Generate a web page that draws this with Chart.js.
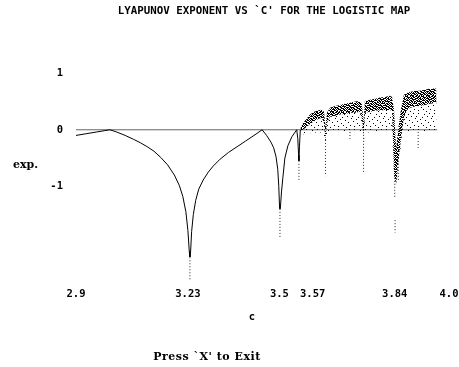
<!DOCTYPE html>
<html>
<head>
<meta charset="utf-8">
<script src="https://cdn.jsdelivr.net/npm/chart.js@4.4.1/dist/chart.umd.min.js"></script>
<style>
html,body{margin:0;padding:0;background:#fff;}
#wrap{width:459px;height:367px;}
</style>
</head>
<body>
<div id="wrap"><canvas id="c" width="459" height="367"></canvas></div>
<script>
// ---- data ----
const curveC = [2.900,2.930,2.960,2.985,3.000,3.020,3.045,3.070,3.090,3.110,3.130,3.150,3.170,3.190,3.205,3.215,3.224,3.230,3.234,3.236,3.238,3.241,3.246,3.253,3.262,3.275,3.290,3.305,3.325,3.350,3.375,3.400,3.425,3.449,3.462,3.475,3.483,3.490,3.495,3.498,3.5005,3.5025,3.506,3.510,3.516,3.525,3.537,3.551,3.554,3.5565,3.5575,3.559,3.5615];
const curveL = [-0.10,-0.07,-0.04,-0.015,0.00,-0.04,-0.10,-0.17,-0.23,-0.30,-0.38,-0.49,-0.62,-0.80,-0.99,-1.18,-1.45,-1.78,-2.15,-2.25,-2.15,-1.80,-1.50,-1.25,-1.05,-0.89,-0.75,-0.64,-0.52,-0.40,-0.30,-0.20,-0.10,0.00,-0.10,-0.22,-0.32,-0.48,-0.70,-1.00,-1.40,-1.40,-1.10,-0.85,-0.50,-0.28,-0.12,0.00,-0.15,-0.45,-0.55,-0.30,0.00];

const chaosC      = [3.562,3.569,3.578,3.590,3.602,3.614,3.625,3.6313,3.6357,3.6401,3.649,3.664,3.678,3.693,3.708,3.723,3.737,3.743,3.748,3.752,3.767,3.782,3.796,3.811,3.826,3.832,3.838,3.844,3.850,3.858,3.867,3.876,3.885,3.900,3.914,3.929,3.944,3.963];
const chaosTop    = [0.03,0.11,0.18,0.27,0.32,0.34,0.36,0.32,0.05,0.30,0.39,0.42,0.44,0.46,0.48,0.50,0.51,0.46,0.14,0.51,0.53,0.55,0.57,0.58,0.60,0.58,0.35,-0.35,0.00,0.35,0.62,0.65,0.67,0.69,0.69,0.71,0.73,0.73];
const chaosDense  = [-0.02,0.00,0.04,0.10,0.15,0.19,0.21,0.12,-0.18,0.12,0.23,0.25,0.27,0.28,0.30,0.30,0.32,0.21,-0.09,0.30,0.32,0.34,0.34,0.35,0.35,0.33,-0.80,-0.97,-0.62,-0.18,0.21,0.35,0.39,0.41,0.42,0.44,0.46,0.48];
const chaosSparse = [-0.08,-0.08,-0.08,-0.06,-0.05,-0.05,-0.05,-0.10,-0.30,-0.10,-0.04,-0.04,-0.04,-0.04,-0.04,-0.04,-0.04,-0.08,-0.25,-0.06,-0.04,-0.04,-0.04,-0.04,-0.04,-0.05,-0.85,-1.00,-0.70,-0.30,-0.05,-0.03,-0.03,-0.03,-0.03,-0.03,-0.03,-0.03];

const spikeC   = [3.236,3.5015,3.5575,3.6357,3.708,3.748,3.840,3.841,3.8505,3.909];
const spikeTop = [-2.15,-1.40,-0.55,-0.18,-0.04,-0.09,-0.85,-1.60,-0.55,-0.04];
const spikeBot = [-2.65,-1.90,-0.90,-0.82,-0.16,-0.78,-1.22,-1.82,-0.90,-0.32];

const zeroLineC = [2.897, 3.965];

const xTicks = [2.9, 3.23, 3.5, 3.57, 3.84, 4.0];
const xTickLabels = ["2.9", "3.23", "3.5", "   3.57", "3.84", "4.0"];
const yTicks = [-1, 0, 1];
const yTickLabels = ["-1", "0", "1"];

// ---- styling helpers ----
function makePattern(rows) {
  const t = document.createElement('canvas');
  t.width = rows[0].length; t.height = rows.length;
  const g = t.getContext('2d');
  g.fillStyle = '#000';
  rows.forEach((r, y) => { for (let x = 0; x < r.length; x++) if (r[x] === '1') g.fillRect(x, y, 1, 1); });
  return document.getElementById('c').getContext('2d').createPattern(t, 'repeat');
}
const densePattern = makePattern([
  "1011011100101101",
  "0110100111010110",
  "1101101010111001",
  "0010110101001111",
  "1101001110110100",
  "0111110001011011",
  "1000101101101010",
  "1011010110010111",
  "0101101011101000",
  "1110010100111101",
  "0011101111000110",
  "1100110010111011",
  "0110011101010101",
  "1011100110101110",
  "0100111011010011",
  "1101010100111100"
]);
const sparsePattern = makePattern([
  "0000000000000000",
  "0010000000000100",
  "0000000010000000",
  "0000000000000000",
  "1000000000010000",
  "0000001000000000",
  "0000000000000001",
  "0000100000000000",
  "0000000001000000",
  "0100000000000000",
  "0000000000001000",
  "0000010000000000",
  "0000000000000000",
  "0000000100000010",
  "0010000000000000",
  "0000000000100000"
]);

const pts = (xs, ys) => xs.map((x, i) => ({x: x, y: ys[i]}));
const spikeData = [];
spikeC.forEach((c, i) => { spikeData.push({x: c, y: spikeTop[i]}, {x: c, y: spikeBot[i]}, {x: c, y: null}); });

const textPlugin = {
  id: 'texts',
  afterDraw(chart) {
    const g = chart.ctx;
    g.save();
    g.fillStyle = '#000';
    g.textBaseline = 'middle';
    g.font = 'bold 10.8px "DejaVu Sans Mono"';
    g.textAlign = 'center';
    g.fillText("LYAPUNOV EXPONENT VS `C' FOR THE LOGISTIC MAP", 264, 11);
    g.font = 'bold 11px "DejaVu Serif"';
    g.textAlign = 'left';
    g.fillText('exp.', 13, 165);
    g.textAlign = 'center';
    g.font = 'bold 10.5px "DejaVu Sans Mono"';
    g.fillText('c', 252, 317);
    g.font = 'bold 11px "DejaVu Serif"';
    g.letterSpacing = '0.5px';
    g.fillText("Press `X' to Exit", 207, 357);
    g.restore();
  }
};

new Chart(document.getElementById('c'), {
  type: 'scatter',
  data: {
    datasets: [
      {data: pts(curveC, curveL), showLine: true, borderColor: '#000', borderWidth: 1, pointRadius: 0, fill: false, tension: 0},
      {data: spikeData, showLine: true, spanGaps: false, borderColor: '#222', borderWidth: 1, borderDash: [1, 2], pointRadius: 0, fill: false},
      {data: pts(chaosC, chaosTop), showLine: true, borderWidth: 0, borderColor: 'rgba(0,0,0,0)', pointRadius: 0, fill: false},
      {data: pts(chaosC, chaosDense), showLine: true, borderWidth: 0, borderColor: 'rgba(0,0,0,0)', pointRadius: 0, fill: 2, backgroundColor: densePattern},
      {data: pts(chaosC, chaosSparse), showLine: true, borderWidth: 0, borderColor: 'rgba(0,0,0,0)', pointRadius: 0, fill: 3, backgroundColor: sparsePattern},
      {data: pts(zeroLineC, [0, 0]), showLine: true, borderColor: '#666', borderWidth: 1, pointRadius: 0, fill: false}
    ]
  },
  options: {
    responsive: false,
    animation: false,
    devicePixelRatio: 1,
    layout: {padding: {left: 36, right: 10, top: 45, bottom: 59}},
    plugins: {legend: {display: false}, tooltip: {enabled: false}},
    scales: {
      x: {
        type: 'linear', min: 2.9, max: 4.0,
        border: {display: false},
        grid: {display: false, drawTicks: false},
        afterBuildTicks: s => { s.ticks = xTicks.map(v => ({value: v})); },
        afterFit: s => { s.paddingLeft = 0; s.paddingRight = 0; s.height = 20; },
        ticks: {
          padding: 0, maxRotation: 0, autoSkip: false, color: '#000',
          font: {family: 'DejaVu Sans Mono', size: 10.5, weight: 'bold'},
          callback: (v, i) => xTickLabels[i]
        }
      },
      y: {
        type: 'linear', min: -2.8, max: 1.5,
        border: {display: false},
        grid: {display: false, drawTicks: false},
        afterBuildTicks: s => { s.ticks = yTicks.map(v => ({value: v})); },
        afterFit: s => { s.width = 40; s.paddingTop = 0; s.paddingBottom = 0; },
        ticks: {
          padding: 13, autoSkip: false, color: '#000',
          font: {family: 'DejaVu Sans Mono', size: 10.5, weight: 'bold'},
          callback: (v, i) => yTickLabels[i]
        }
      }
    }
  },
  plugins: [textPlugin]
});
</script>
</body>
</html>
